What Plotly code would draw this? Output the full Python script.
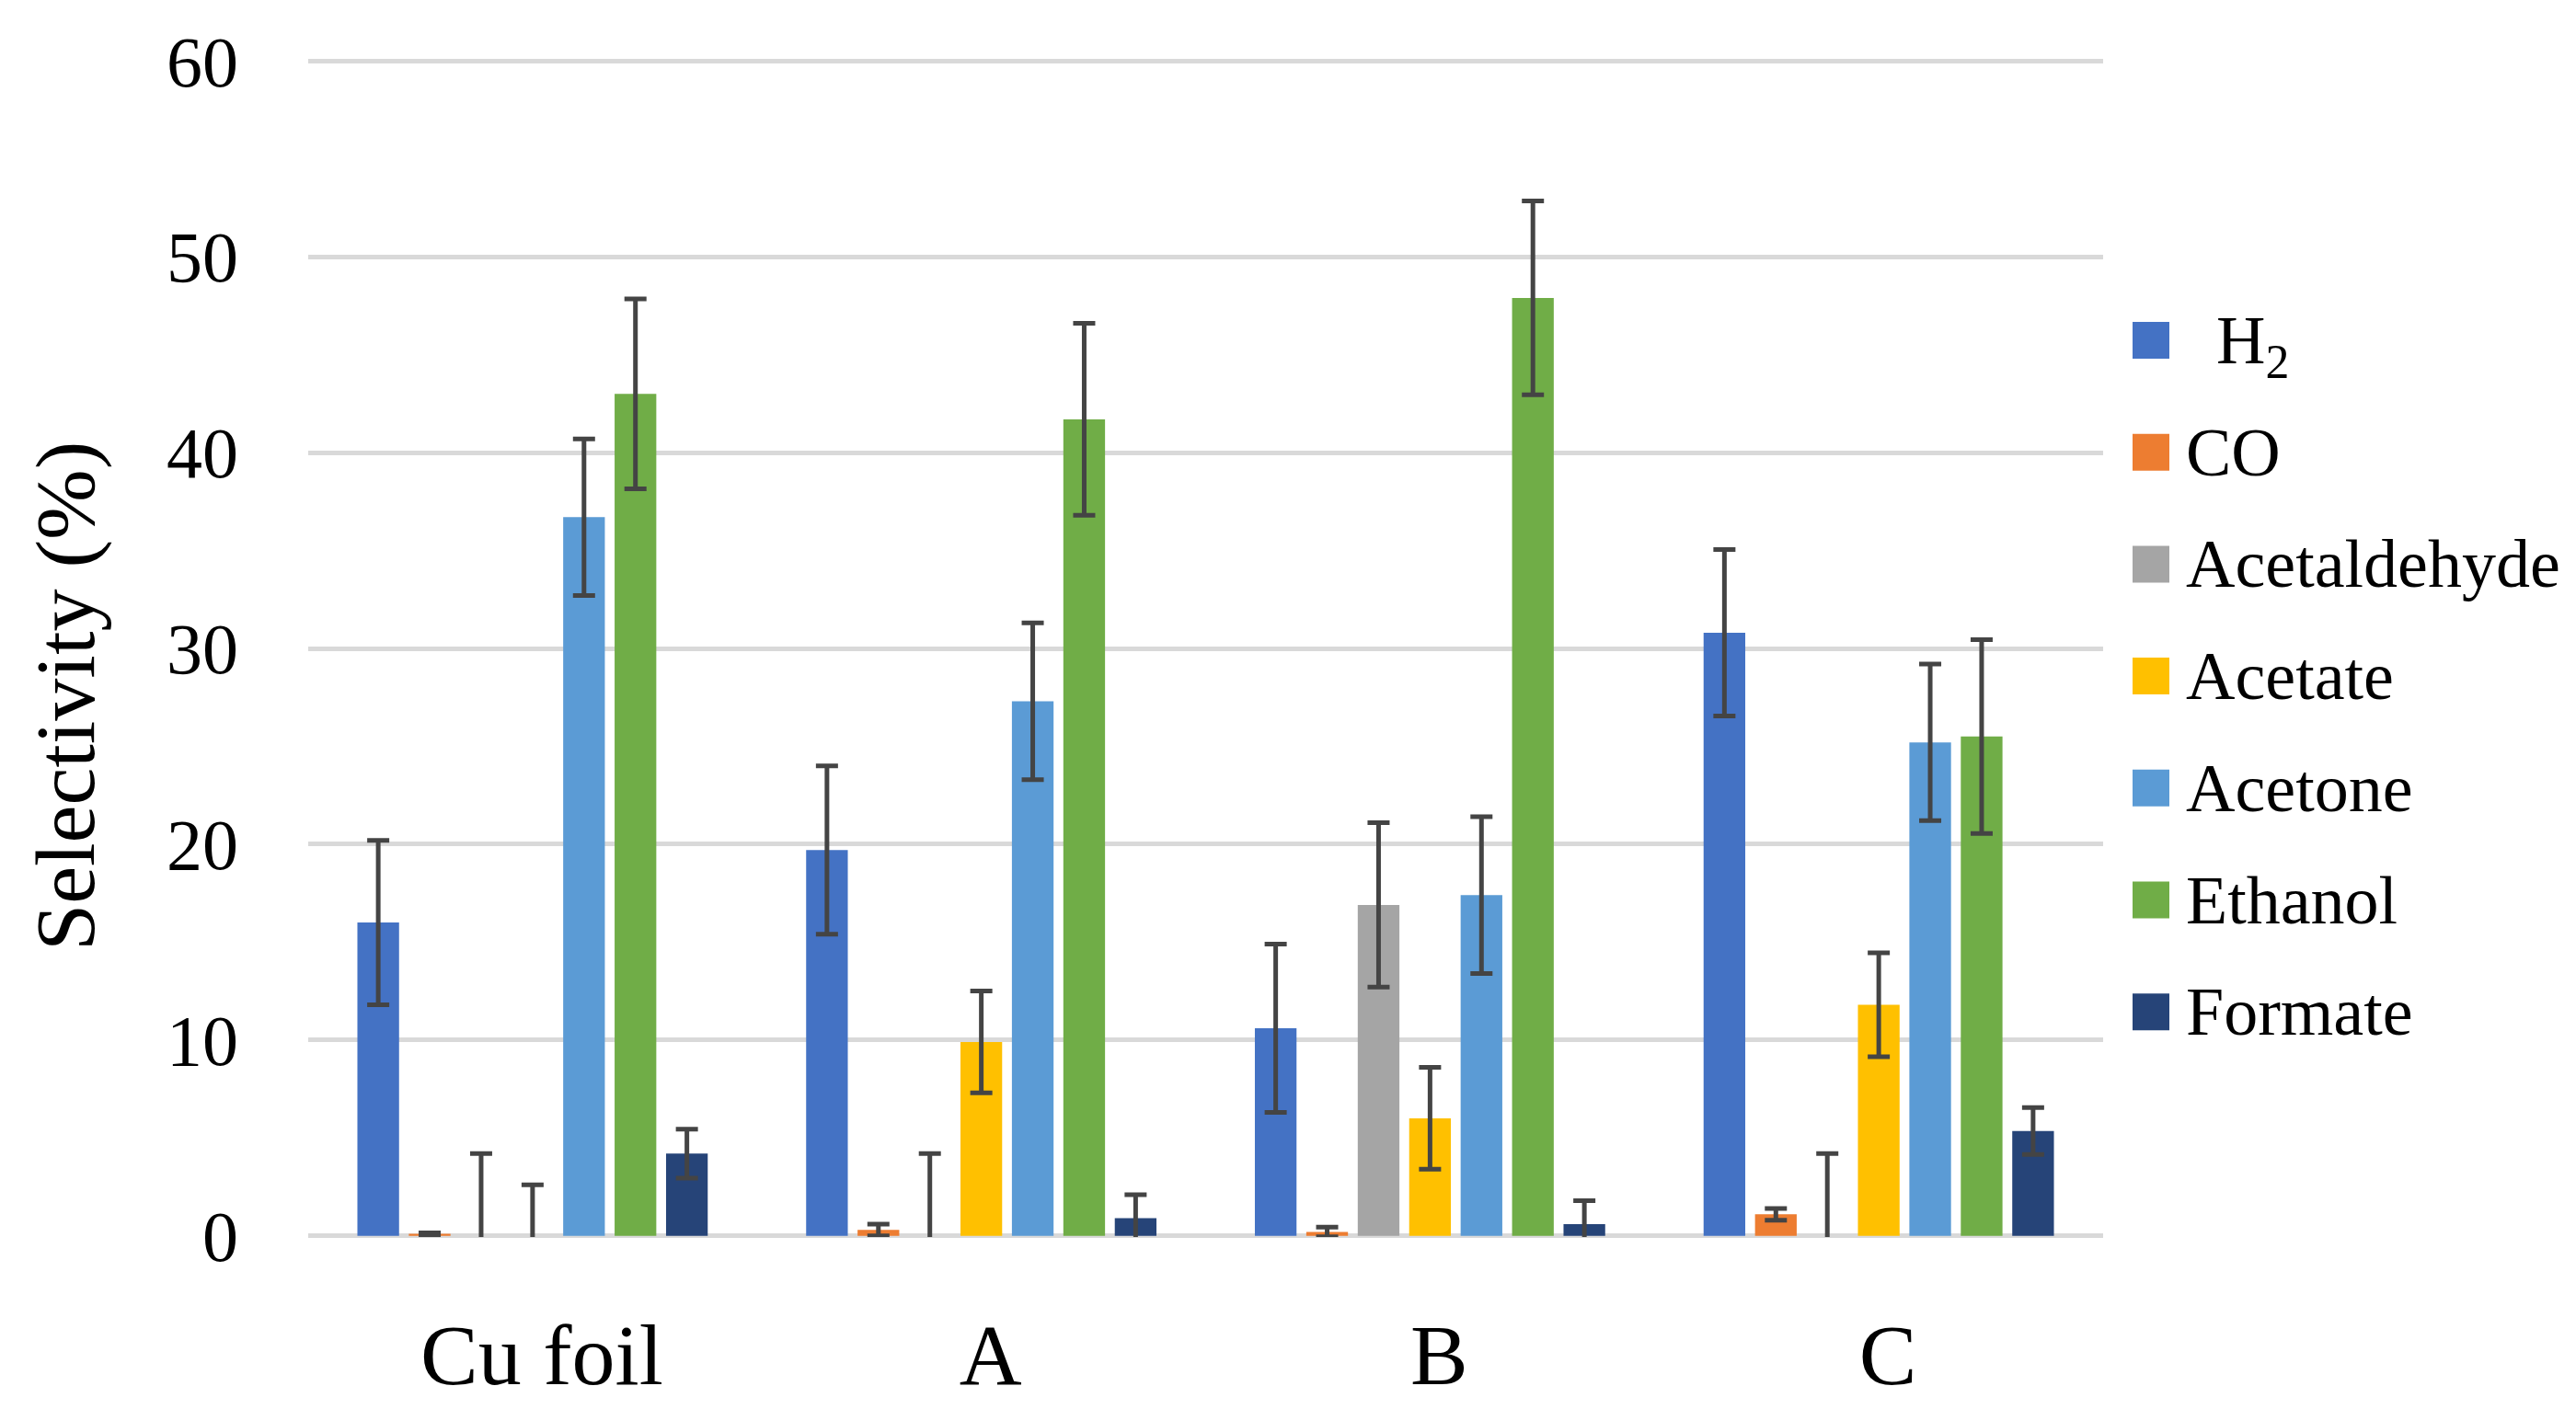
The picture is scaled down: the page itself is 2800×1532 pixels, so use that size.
import plotly.graph_objects as go

categories = ["Cu foil", "A", "B", "C"]
products = ["H<sub>2</sub>", "CO", "Acetaldehyde", "Acetate", "Acetone", "Ethanol", "Formate"]
colors = ["#4472C4", "#ED7D31", "#A5A5A5", "#FFC000", "#5B9BD5", "#70AD47", "#264478"]

h2 = [16.0, 19.7, 10.6, 30.8]
h2_err = [4.2, 4.3, 4.3, 4.25]
co = [0.1, 0.3, 0.2, 1.1]
co_err = [0.05, 0.3, 0.25, 0.3]
acetaldehyde = [0.0, 0.0, 16.9, 0.0]
acetaldehyde_err = [4.2, 4.2, 4.2, 4.2]
acetate = [0.0, 9.9, 6.0, 11.8]
acetate_err = [2.6, 2.6, 2.6, 2.65]
acetone = [36.7, 27.3, 17.4, 25.2]
acetone_err = [4.0, 4.0, 4.0, 4.0]
ethanol = [43.0, 41.7, 47.9, 25.5]
ethanol_err = [4.85, 4.9, 4.95, 4.95]
formate = [4.2, 0.9, 0.6, 5.35]
formate_err = [1.25, 1.2, 1.2, 1.2]

series = [h2, co, acetaldehyde, acetate, acetone, ethanol, formate]
errors = [h2_err, co_err, acetaldehyde_err, acetate_err, acetone_err, ethanol_err, formate_err]

y_ticks = [0, 10, 20, 30, 40, 50, 60]

FONT = "Liberation Serif, Times New Roman, serif"

W, H = 2800, 1532
ML, MR, MT, MB = 335, 514, 65, 187
PW, PH = W - ML - MR, H - MT - MB

def px_to_paper_x(px):
    return (px - ML) / PW

def px_to_paper_y(py):
    return (H - MB - py) / PH

fig = go.Figure()
for name, vals, errs, col in zip(products, series, errors, colors):
    fig.add_trace(go.Bar(
        name=name,
        x=categories,
        y=vals,
        marker=dict(color=col, line=dict(width=0)),
        error_y=dict(type="data", array=errs, visible=True, color="#444444",
                     thickness=5, width=12),
        showlegend=False,
    ))

# legend (drawn as layout shapes + text, one row per series)
LEG_SWATCH_X0, LEG_SWATCH_SIZE, LEG_TEXT_X = 2318, 40, 2374
LEG_Y0, LEG_STEP = 370, 121.7
shapes, annotations = [], []
for i, (name, col) in enumerate(zip(products, colors)):
    cy = LEG_Y0 + i * LEG_STEP
    shapes.append(dict(
        type="rect", xref="paper", yref="paper",
        x0=px_to_paper_x(LEG_SWATCH_X0), x1=px_to_paper_x(LEG_SWATCH_X0 + LEG_SWATCH_SIZE),
        y0=px_to_paper_y(cy + LEG_SWATCH_SIZE / 2), y1=px_to_paper_y(cy - LEG_SWATCH_SIZE / 2),
        fillcolor=col, line=dict(width=0), layer="above",
    ))
    tx = LEG_TEXT_X + (33 if i == 0 else 0)
    annotations.append(dict(
        text=name, xref="paper", yref="paper",
        x=px_to_paper_x(tx), y=px_to_paper_y(cy + (6 if i == 0 else 0)),
        xanchor="left", yanchor="middle", showarrow=False,
        font=dict(size=74, family=FONT, color="#000000"),
    ))

# y-axis title
annotations.append(dict(
    text="Selectivity (%)", xref="paper", yref="paper",
    x=px_to_paper_x(71), y=px_to_paper_y(757),
    xanchor="center", yanchor="middle", textangle=-90, showarrow=False,
    font=dict(size=92, family=FONT, color="#000000"),
))

fig.update_layout(
    width=W, height=H,
    paper_bgcolor="white", plot_bgcolor="white",
    barmode="group", bargap=0.1975, bargroupgap=0.19,
    margin=dict(l=ML, r=MR, t=MT, b=MB, autoexpand=False),
    font=dict(family=FONT, color="#000000", size=78),
    showlegend=False,
    shapes=shapes,
    annotations=annotations,
)
fig.update_xaxes(
    showgrid=False, showline=False, zeroline=False,
    tickfont=dict(size=94, family=FONT), ticks="", ticklabelstandoff=65,
    ticklabelshift=10,
    range=[-0.5, 3.5],
)
fig.update_yaxes(
    range=[-0.06, 60.06], tickvals=y_ticks, ticktext=[str(v) for v in y_ticks],
    showgrid=True, gridcolor="#d9d9d9", gridwidth=5,
    zeroline=False, showline=False, ticks="",
    tickfont=dict(size=78, family=FONT), ticklabelstandoff=75,
)

fig.write_html("out.html", config={"displayModeBar": False},
               post_script="document.body.style.margin='0';")
